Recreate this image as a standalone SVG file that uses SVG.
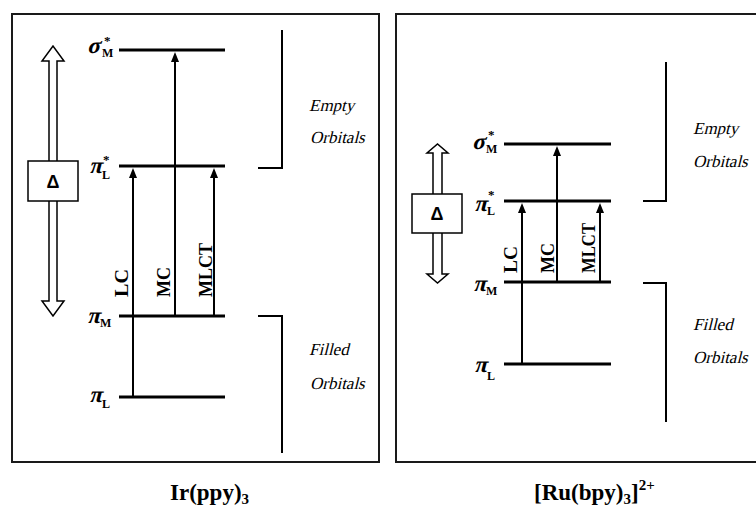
<svg xmlns="http://www.w3.org/2000/svg" width="756" height="512" viewBox="0 0 756 512">
<defs>
<style>
.frame{fill:none;stroke:#1a1a1a;stroke-width:2}
.level{stroke:#000;stroke-width:3;fill:none}
.trans{stroke:#000;stroke-width:2;fill:none;marker-end:url(#ah)}
.brk{fill:none;stroke:#000;stroke-width:2}
.hollow{fill:#fff;stroke:#000;stroke-width:1.5;stroke-linejoin:miter}
.gk{font-family:"Liberation Serif",serif;font-weight:bold;font-size:23px}
.sub{font-family:"Liberation Serif",serif;font-weight:bold;font-size:12px}
.star{font-family:"Liberation Serif",serif;font-weight:bold;font-size:13px}
.tl{font-family:"Liberation Serif",serif;font-weight:bold;font-size:19px}
.orb{font-family:"Liberation Serif",serif;font-size:17px}
.delta{font-family:"Liberation Sans",sans-serif;font-weight:bold;font-size:18px;text-anchor:middle}
.title{font-family:"Liberation Serif",serif;font-weight:bold;font-size:23px}
</style>
<marker id="ah" viewBox="0 0 10 8" refX="4" refY="4" markerWidth="10" markerHeight="8" markerUnits="userSpaceOnUse" orient="auto">
<path d="M0,0 L10,4 L0,8 z" fill="#000"/>
</marker>
</defs>

<!-- Left panel: Ir(ppy)3 -->
<g id="panel-ir">
<rect class="frame" x="12" y="14" width="367" height="448"/>
</g>
<g id="ir-delta">
<path class="hollow" d="M49,161 L49,61 L42,61 L53,46 L64,61 L57,61 L57,161"/>
<path class="hollow" d="M49,201 L49,301 L42,301 L53,316 L64,301 L57,301 L57,201"/>
<rect class="hollow" x="28" y="161" width="50" height="40"/>
<text class="delta" x="53" y="188">Δ</text>
</g>
<g id="ir-sigmaM">
<line class="level" x1="119" y1="50" x2="225" y2="50"/>
<g transform="translate(87,53) skewX(-14)"><text class="gk" x="0" y="0">σ</text></g>
<text class="star" x="104" y="45">*</text>
<text class="sub" x="102" y="57">M</text>
</g>
<g id="ir-piLstar">
<line class="level" x1="119" y1="166" x2="225" y2="166"/>
<g transform="translate(89,173) skewX(-14)"><text class="gk" x="0" y="0">π</text></g>
<text class="star" x="103" y="164">*</text>
<text class="sub" x="102" y="179">L</text>
</g>
<g id="ir-piM">
<line class="level" x1="119" y1="316" x2="225" y2="316"/>
<g transform="translate(87,323) skewX(-14)"><text class="gk" x="0" y="0">π</text></g>
<text class="sub" x="100" y="327">M</text>
</g>
<g id="ir-piL">
<line class="level" x1="119" y1="397" x2="225" y2="397"/>
<g transform="translate(89,402) skewX(-14)"><text class="gk" x="0" y="0">π</text></g>
<text class="sub" x="102" y="408">L</text>
</g>
<g id="ir-empty">
<polyline class="brk" points="258,168 282,168 282,30"/>
<g transform="translate(309,111) skewX(-14)"><text class="orb" x="0" y="0">Empty</text></g>
<g transform="translate(310,143) skewX(-14)"><text class="orb" x="0" y="0">Orbitals</text></g>
</g>
<g id="ir-filled">
<polyline class="brk" points="258,316 282,316 282,453"/>
<g transform="translate(309,355) skewX(-14)"><text class="orb" x="0" y="0">Filled</text></g>
<g transform="translate(310,389) skewX(-14)"><text class="orb" x="0" y="0">Orbitals</text></g>
</g>
<g id="ir-title">
<text class="title" x="170" y="500">Ir(ppy)<tspan font-size="15" dy="4">3</tspan></text>
</g>

<!-- Right panel: [Ru(bpy)3]2+ -->
<g id="panel-ru">
<rect class="frame" x="396" y="14" width="380" height="448"/>
</g>
<g id="ru-delta">
<path class="hollow" d="M433,194 L433,153 L427,153 L437.5,144 L448,153 L442,153 L442,194"/>
<path class="hollow" d="M433,233 L433,274 L427,274 L437.5,283 L448,274 L442,274 L442,233"/>
<rect class="hollow" x="412" y="194" width="50" height="39"/>
<text class="delta" x="437" y="220">Δ</text>
</g>
<g id="ru-sigmaM">
<line class="level" x1="504" y1="144" x2="611" y2="144"/>
<g transform="translate(472,149) skewX(-14)"><text class="gk" x="0" y="0">σ</text></g>
<text class="star" x="488" y="139">*</text>
<text class="sub" x="486" y="153">M</text>
</g>
<g id="ru-piLstar">
<line class="level" x1="504" y1="201" x2="611" y2="201"/>
<g transform="translate(474,211) skewX(-14)"><text class="gk" x="0" y="0">π</text></g>
<text class="star" x="488" y="199">*</text>
<text class="sub" x="487" y="215">L</text>
</g>
<g id="ru-piM">
<line class="level" x1="504" y1="282" x2="611" y2="282"/>
<g transform="translate(473,291) skewX(-14)"><text class="gk" x="0" y="0">π</text></g>
<text class="sub" x="486" y="295">M</text>
</g>
<g id="ru-piL">
<line class="level" x1="504" y1="364" x2="611" y2="364"/>
<g transform="translate(474,372) skewX(-14)"><text class="gk" x="0" y="0">π</text></g>
<text class="sub" x="487" y="380">L</text>
</g>
<g id="ru-empty">
<polyline class="brk" points="643,201 666,201 666,62"/>
<g transform="translate(693,134) skewX(-14)"><text class="orb" x="0" y="0">Empty</text></g>
<g transform="translate(693,167) skewX(-14)"><text class="orb" x="0" y="0">Orbitals</text></g>
</g>
<g id="ru-filled">
<polyline class="brk" points="643,283 666,283 666,422"/>
<g transform="translate(693,330) skewX(-14)"><text class="orb" x="0" y="0">Filled</text></g>
<g transform="translate(693,363) skewX(-14)"><text class="orb" x="0" y="0">Orbitals</text></g>
</g>
<g id="ru-title">
<text class="title" x="534" y="500">[Ru(bpy)<tspan font-size="15" dy="4">3</tspan><tspan dy="-4">]</tspan><tspan font-size="15" dy="-10">2+</tspan></text>
</g>

<!-- Connectors: transitions -->
<g id="connectors">
<line class="trans" x1="133" y1="397" x2="133" y2="174"/>
<line class="trans" x1="175" y1="316" x2="175" y2="58"/>
<line class="trans" x1="214" y1="316" x2="214" y2="174"/>
<line class="trans" x1="522" y1="364" x2="522" y2="209"/>
<line class="trans" x1="557" y1="282" x2="557" y2="152"/>
<line class="trans" x1="600" y1="282" x2="600" y2="209"/>
</g>
<g id="transition-labels">
<text class="tl" transform="translate(128,297) rotate(-90)" textLength="28" lengthAdjust="spacingAndGlyphs">LC</text>
<text class="tl" transform="translate(170,297) rotate(-90)" textLength="30" lengthAdjust="spacingAndGlyphs">MC</text>
<text class="tl" transform="translate(212,297) rotate(-90)" textLength="54" lengthAdjust="spacingAndGlyphs">MLCT</text>
<text class="tl" transform="translate(517,273) rotate(-90)" textLength="27" lengthAdjust="spacingAndGlyphs">LC</text>
<text class="tl" transform="translate(554,273) rotate(-90)" textLength="30" lengthAdjust="spacingAndGlyphs">MC</text>
<text class="tl" transform="translate(595,273) rotate(-90)" textLength="50" lengthAdjust="spacingAndGlyphs">MLCT</text>
</g>
</svg>
